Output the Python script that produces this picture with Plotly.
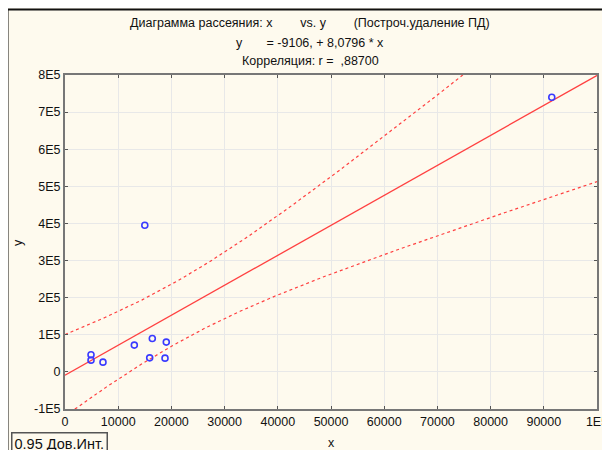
import numpy as np
import plotly.graph_objects as go

# Data
x_vals = [4890, 4890, 7140, 13030, 16410, 19040, 15920, 18800, 15000, 91500]
y_vals = [46000, 31600, 26200, 72200, 90000, 80300, 37800, 37000, 395000, 740000]

INTERCEPT = -9106.0
SLOPE = 8.0796
CONF = 0.95
T_CRIT = 2.306  # t(0.975, df=8)

x_tickvals = [0, 10000, 20000, 30000, 40000, 50000, 60000, 70000, 80000, 90000, 100000]
x_ticktext = ["0", "10000", "20000", "30000", "40000", "50000", "60000", "70000", "80000", "90000", "1E5"]
y_tickvals = [-100000, 0, 100000, 200000, 300000, 400000, 500000, 600000, 700000, 800000]
y_ticktext = ["-1E5", "0", "1E5", "2E5", "3E5", "4E5", "5E5", "6E5", "7E5", "8E5"]

xa = np.array(x_vals, dtype=float)
ya = np.array(y_vals, dtype=float)
n = len(xa)
resid = ya - (INTERCEPT + SLOPE * xa)
s = np.sqrt(np.sum(resid ** 2) / (n - 2))
xbar = xa.mean()
sxx = np.sum((xa - xbar) ** 2)

xg = np.linspace(0, 100000, 401)
yfit = INTERCEPT + SLOPE * xg
se = s * np.sqrt(1.0 / n + (xg - xbar) ** 2 / sxx)
upper = yfit + T_CRIT * se
lower = yfit - T_CRIT * se

red = "#ff4040"
fig = go.Figure()
fig.add_trace(go.Scatter(x=xg, y=upper, mode="lines",
                         line=dict(color=red, width=1.2, dash="3px,3px"), hoverinfo="skip"))
fig.add_trace(go.Scatter(x=xg, y=lower, mode="lines",
                         line=dict(color=red, width=1.2, dash="3px,3px"), hoverinfo="skip"))
fig.add_trace(go.Scatter(x=xg, y=yfit, mode="lines",
                         line=dict(color=red, width=1.3), hoverinfo="skip"))
fig.add_trace(go.Scatter(x=x_vals, y=y_vals, mode="markers",
                         marker=dict(symbol="circle-open", size=6, color="#3a3aff",
                                     line=dict(width=1.6, color="#3a3aff"))))

font = "Liberation Sans, Arial, sans-serif"
FS = 12.5
OFF = 8  # page body margin
W, H = 602, 442
L, R, T, B = 65 - OFF, 610 - 597, 75 - OFF, 450 - 409
pw, ph = W - L - R, H - T - B

def px_x(p):  # reference pixel -> paper
    return (p - OFF - L) / pw

def px_y(p):
    return (H - B - (p - OFF)) / ph

nb = "\u00a0"
title_lines = [
    ("Диаграмма рассеяния: x" + nb * 8 + "vs. y" + nb * 8 + "(Построч.удаление ПД)", 23),
    ("y" + nb * 7 + "= -9106, + 8,0796 * x", 43),
    ("Корреляция: r =" + nb + " ,88700", 61),
]
annotations = []
for text, py in title_lines:
    annotations.append(dict(text=text, x=px_x(310), y=px_y(py), xref="paper", yref="paper",
                            showarrow=False, xanchor="center", yanchor="middle",
                            font=dict(family=font, size=FS, color="#111")))
annotations.append(dict(text=f"{CONF:.2f} Дов.Инт.", x=px_x(11), y=px_y(432), xref="paper", yref="paper",
                        showarrow=False, xanchor="left", yanchor="top",
                        bordercolor="#555", borderwidth=1.5, borderpad=2,
                        font=dict(family=font, size=14.5, color="#111")))
annotations.append(dict(text="y", x=px_x(18), y=px_y(243), xref="paper", yref="paper",
                        showarrow=False, xanchor="center", yanchor="middle", textangle=-90,
                        font=dict(family=font, size=FS, color="#111")))
annotations.append(dict(text="x", x=px_x(331), y=px_y(443), xref="paper", yref="paper",
                        showarrow=False, xanchor="center", yanchor="middle",
                        font=dict(family=font, size=FS, color="#111")))

shapes = [dict(type="rect", xref="paper", yref="paper", layer="below",
               x0=px_x(7.5), x1=px_x(640), y0=px_y(480), y1=px_y(9.5),
               fillcolor="#fefaee", line=dict(color="#111", width=2))]

fig.update_layout(
    width=W, height=H,
    margin=dict(l=L, r=R, t=T, b=B, autoexpand=False),
    paper_bgcolor="#fefaee", plot_bgcolor="white",
    showlegend=False,
    font=dict(family=font, size=FS, color="#111"),
    annotations=annotations, shapes=shapes,
    xaxis=dict(range=[0, 100000], tickvals=x_tickvals, ticktext=x_ticktext, automargin=False,
               showgrid=True, gridcolor="#e8e8e8", gridwidth=1, zeroline=False,
               showline=True, linecolor="#777", linewidth=2, mirror="ticks",
               ticks="inside", ticklen=3, tickcolor="#555", tickfont=dict(size=FS)),
    yaxis=dict(range=[-100000, 800000], tickvals=y_tickvals, ticktext=y_ticktext, automargin=False,
               showgrid=True, gridcolor="#e8e8e8", gridwidth=1, zeroline=False,
               showline=True, linecolor="#777", linewidth=2, mirror="ticks",
               ticks="inside", ticklen=3, tickcolor="#555", tickfont=dict(size=FS)),
)

fig.write_html("out.html")
